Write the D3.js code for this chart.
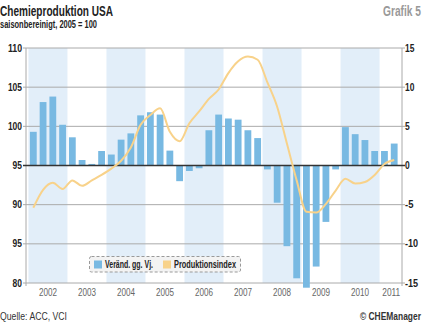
<!DOCTYPE html>
<html>
<head>
<meta charset="utf-8">
<script src="https://cdn.jsdelivr.net/npm/d3@7"></script>
<style>
  body { margin: 0; background: #fff; }
  svg { display: block; font-family: "Liberation Sans", Arial, sans-serif; }
</style>
</head>
<body>
<svg id="chart" width="425" height="324"></svg>
<script>
// Years on the x axis (quarterly data from 2002 Q1 to 2011 Q2)
const years = ["2002", "2003", "2004", "2005", "2006", "2007", "2008", "2009", "2010", "2011"];

// Change vs previous year, % (right axis)
const change = [
  4.3, 8.1, 8.8, 5.2,
  3.6, 0.7, 0.2, 1.85,
  1.4, 3.3, 4.1, 6.4,
  6.8, 6.5, 1.9, -2.0,
  -0.7, -0.35, 4.5, 6.5,
  6.0, 5.85, 4.5, 3.5,
  -0.5, -4.75, -10.3, -14.4,
  -15.6, -12.9, -7.2, -0.5,
  4.9, 4.0, 3.25, 1.85,
  1.85, 2.8
];

// Production index, 2005 = 100 (left axis)
const index = [
  89.6, 91.9, 92.8, 92.0,
  93.1, 92.4, 93.1, 93.8,
  94.6, 95.6, 97.3, 100.2,
  101.45, 102.3, 99.3, 98.1,
  100.4, 101.9, 103.5, 104.7,
  106.8, 108.3, 108.9, 108.5,
  105.6, 102.5, 97.8, 93.1,
  89.1, 89.0, 90.1, 91.8,
  93.3, 92.7, 92.9, 93.8,
  95.2, 95.7
];

const leftTicks = [110, 105, 100, 95, 90, 85, 80];
const leftTickLabels = ["110", "105", "100", "95", "90", "95", "80"];
const rightTicks = [15, 10, 5, 0, -5, -10, -15];

const svg = d3.select("#chart");
const plotL = 26, plotR = 402, plotT = 48, plotB = 283;

const x = d3.scaleLinear().domain([-0.25, 38.3]).range([plotL, plotR]);
const yL = d3.scaleLinear().domain([80, 110]).range([plotB, plotT]);
const yR = d3.scaleLinear().domain([-15, 15]).range([plotB, plotT]);

// squeeze text to a width (the original uses a condensed face)
function fit(sel, w) {
  return sel.attr("textLength", w).attr("lengthAdjust", "spacingAndGlyphs");
}

// squeeze with a transform instead, for text at the right edge
function squeezeRight(txt, xr, y, w, size, weight, color) {
  const g = svg.append("g");
  const t = g.append("text").attr("font-size", size).attr("font-weight", weight).attr("fill", color).text(txt);
  const nat = t.node().getComputedTextLength();
  const s = w / nat;
  g.attr("transform", `translate(${xr - w},${y}) scale(${s},1)`);
}

// shaded year bands
svg.append("g").selectAll("rect")
  .data(years.filter((d, i) => i % 2 === 0))
  .join("rect")
  .attr("x", d => Math.max(plotL, x((+d - 2002) * 4)))
  .attr("width", d => Math.min(plotR, x((+d - 2002) * 4 + 4)) - Math.max(plotL, x((+d - 2002) * 4)))
  .attr("y", plotT)
  .attr("height", plotB - plotT)
  .attr("fill", "#e2eef9");

// grid lines
svg.append("g").selectAll("line")
  .data(leftTicks)
  .join("line")
  .attr("x1", plotL - 3).attr("x2", plotR + 3)
  .attr("y1", d => yL(d)).attr("y2", d => yL(d))
  .attr("stroke", "#aaa");

// axis lines
svg.append("line").attr("x1", plotL).attr("x2", plotL).attr("y1", plotT).attr("y2", plotB + 3).attr("stroke", "#aaa");
svg.append("line").attr("x1", plotR).attr("x2", plotR).attr("y1", plotT).attr("y2", plotB + 3).attr("stroke", "#aaa");

// bars
svg.append("g").selectAll("rect")
  .data(change)
  .join("rect")
  .attr("x", (d, i) => x(i + 0.5) - 3.4)
  .attr("width", 6.8)
  .attr("y", d => yR(Math.max(0, d)))
  .attr("height", d => Math.abs(yR(d) - yR(0)))
  .attr("fill", "#78b9e2");

// zero line above bars
svg.append("line")
  .attr("x1", plotL - 3).attr("x2", plotR + 3)
  .attr("y1", yR(0)).attr("y2", yR(0))
  .attr("stroke", "#333").attr("stroke-width", 1.4);

// production index line
const line = d3.line()
  .x((d, i) => x(i + 0.5))
  .y(d => yL(d))
  .curve(d3.curveMonotoneX);
svg.append("path")
  .datum(index)
  .attr("d", line)
  .attr("fill", "none")
  .attr("stroke", "#f8d28a")
  .attr("stroke-width", 2);

// left labels
svg.append("g").selectAll("text")
  .data(leftTicks)
  .join("text")
  .attr("x", 22).attr("y", d => yL(d) + 3.5)
  .attr("text-anchor", "end")
  .attr("font-size", 10).attr("font-weight", "bold").attr("fill", "#222")
  .attr("textLength", (d, i) => leftTickLabels[i].length * 4.7)
  .attr("lengthAdjust", "spacingAndGlyphs")
  .text((d, i) => leftTickLabels[i]);

// right labels
svg.append("g").selectAll("text")
  .data(rightTicks)
  .join("text")
  .attr("x", 405).attr("y", d => yR(d) + 3.5)
  .attr("font-size", 10).attr("font-weight", "bold").attr("fill", "#222")
  .attr("textLength", d => String(d).length * 4.7 - (d < 0 ? 1 : 0))
  .attr("lengthAdjust", "spacingAndGlyphs")
  .text(d => d);

// year labels
fit(svg.append("g").selectAll("text")
  .data(years)
  .join("text")
  .attr("x", (d, i) => i === 9 ? x(37.2) : x(i * 4 + 2))
  .attr("y", 296)
  .attr("text-anchor", "middle")
  .attr("font-size", 10).attr("fill", "#666")
  .text(d => d), 18);

// legend
const lg = svg.append("g");
lg.append("rect")
  .attr("x", 89.5).attr("y", 256.5).attr("width", 151).attr("height", 15.5).attr("rx", 2)
  .attr("fill", "#f3f3f3").attr("stroke", "#999").attr("stroke-dasharray", "3,2");
lg.append("rect").attr("x", 94).attr("y", 260.5).attr("width", 8).attr("height", 8).attr("fill", "#78b9e2");
fit(lg.append("text").attr("x", 105).attr("y", 268).attr("font-size", 10).attr("font-weight", "bold").attr("fill", "#222").text("Veränd. gg. Vj."), 48);
lg.append("rect").attr("x", 163).attr("y", 260.5).attr("width", 8).attr("height", 8).attr("fill", "#f8d28a");
fit(lg.append("text").attr("x", 174).attr("y", 268).attr("font-size", 10).attr("font-weight", "bold").attr("fill", "#222").text("Produktionsindex"), 62);

// titles
fit(svg.append("text").attr("x", 0).attr("y", 16).attr("font-size", 15).attr("font-weight", "bold").attr("fill", "#222").text("Chemieproduktion USA"), 113);
fit(svg.append("text").attr("x", 0).attr("y", 28).attr("font-size", 10).attr("font-weight", "bold").attr("fill", "#222").text("saisonbereinigt, 2005 = 100"), 97);
squeezeRight("Grafik 5", 421, 16, 38, 15, "bold", "#999");

// footer
fit(svg.append("text").attr("x", 0).attr("y", 320).attr("font-size", 10).attr("fill", "#333").text("Quelle: ACC, VCI"), 67);
squeezeRight("© CHEManager", 421, 320, 61, 10, "bold", "#333");
</script>
</body>
</html>
